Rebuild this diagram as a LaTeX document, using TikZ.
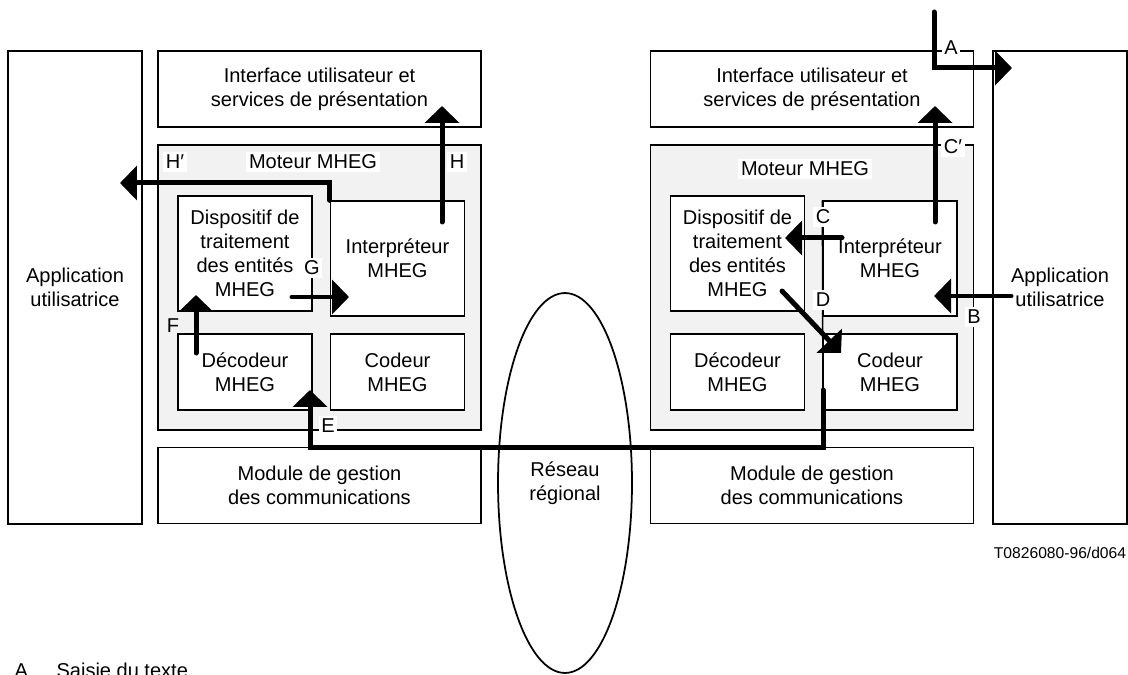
\documentclass[tikz,border=0pt]{standalone}
\usepackage{fontspec}
\setmainfont{Liberation Sans}
\usetikzlibrary{arrows.meta, shapes.geometric}

\begin{document}
\begin{tikzpicture}[x=0.02cm, y=-0.02cm,
    every node/.style={font=\fontsize{11.4}{13.7}\selectfont, align=center, line width=0.8pt},
    colonne/.style={draw, fill=white, minimum width=2.68cm, minimum height=9.46cm},
    bandeau/.style={draw, fill=white, minimum width=6.46cm, minimum height=1.52cm},
    moteur/.style={draw, fill=gray!10, minimum width=6.46cm, minimum height=5.7cm},
    bloc/.style={draw, fill=white, minimum width=2.68cm, minimum height=2.3cm, inner sep=1pt},
    petitbloc/.style={draw, fill=white, minimum width=2.68cm, minimum height=1.52cm},
    etiq/.style={fill=white, inner sep=1.5pt},
    fleche/.style={line width=0.1cm, line cap=round, -{Triangle[length=0.34cm, width=0.68cm]}}]
    \useasboundingbox (0, 0) rectangle (1128, 675);

    % Bloki - strona lewa
    \node[colonne] (appG) at (75, 287.5) {Application\\utilisatrice};
    \node[bandeau] (ifaceG) at (319.5, 89) {Interface utilisateur et\\services de présentation};
    \node[moteur] (moteurG) at (319.5, 287.5) {};
    \node[bloc] (dispG) at (245, 253.5) {Dispositif de\\traitement\\des entités\\MHEG};
    \node[bloc] (interpG) at (397.5, 258.5) {Interpréteur\\MHEG};
    \node[petitbloc] (decG) at (245, 372) {Décodeur\\MHEG};
    \node[petitbloc] (codG) at (397.5, 372) {Codeur\\MHEG};
    \node[bandeau] (moduleG) at (319.5, 485.5) {Module de gestion\\des communications};

    % Bloki - strona prawa
    \node[bandeau] (ifaceD) at (812, 89) {Interface utilisateur et\\services de présentation};
    \node[moteur] (moteurD) at (812, 287.5) {};
    \node[bloc] (dispD) at (737.5, 253.5) {Dispositif de\\traitement\\des entités\\MHEG};
    \node[bloc] (interpD) at (890, 258.5) {Interpréteur\\MHEG};
    \node[petitbloc] (decD) at (737.5, 372) {Décodeur\\MHEG};
    \node[petitbloc] (codD) at (890, 372) {Codeur\\MHEG};
    \node[bandeau] (moduleD) at (812, 485.5) {Module de gestion\\des communications};
    \node[colonne] (appD) at (1060, 287.5) {Application\\utilisatrice};

    % Sieć
    \node[draw, ellipse, line width=1pt, minimum width=2.68cm, minimum height=7.6cm] (reseau) at (565, 483) {Réseau\\régional};

    % Punkty strzałek
    \coordinate (hprime) at (120, 183);
    \coordinate (h0) at (442, 222);
    \coordinate (h1) at (442, 106);
    \coordinate (g0) at (292, 297);
    \coordinate (g1) at (349, 297);
    \coordinate (f0) at (196, 353);
    \coordinate (f1) at (196, 295);
    \coordinate (e0) at (823, 390);
    \coordinate (ecoin) at (823, 447);
    \coordinate (e1) at (310, 390);
    \coordinate (a0) at (934, 12);
    \coordinate (a1) at (1012, 68);
    \coordinate (cp0) at (935, 222);
    \coordinate (cp1) at (935, 106);
    \coordinate (c0) at (842, 238);
    \coordinate (c1) at (785, 238);
    \coordinate (d0) at (782, 291);
    \coordinate (d1) at (841, 353);
    \coordinate (b0) at (1011, 296);
    \coordinate (b1) at (934, 296);

    % Strzałki
    \draw[line width=0.8pt] (interpD.north west) -- (ecoin);
    \draw[fleche] (interpG.north west) |- (hprime);
    \draw[fleche] (h0) -- (h1);
    \draw[fleche] (g0) -- (g1);
    \draw[fleche] (f0) -- (f1);
    \draw[fleche] (e0) -- (ecoin) -| (e1);
    \draw[fleche] (a0) |- (a1);
    \draw[fleche] (cp0) -- (cp1);
    \draw[fleche] (c0) -- (c1);
    \draw[fleche] (d0) -- (d1);
    \draw[fleche] (b0) -- (b1);

    % Etykiety
    \node[etiq] (lHp) at (175, 162) {H′};
    \node[etiq] (lMotG) at (313, 162) {Moteur MHEG};
    \node[etiq] (lH) at (457, 162) {H};
    \node[etiq] (lG) at (312, 268) {G};
    \node[inner sep=1pt] (lF) at (173, 326) {F};
    \node[etiq] (lE) at (328, 426) {E};
    \node[etiq] (lA) at (951, 48) {A};
    \node[etiq] (lCp) at (953, 147) {C′};
    \node[etiq] (lMotD) at (805, 169) {Moteur MHEG};
    \node[etiq] (lC) at (823, 217) {C};
    \node[etiq] (lD) at (823, 300) {D};
    \node[etiq] (lB) at (974, 317) {B};

    % Podpisy
    \node[font=\fontsize{8.9}{10}\selectfont] (ref) at (1060, 553) {T0826080-96/d064};
    \node[anchor=base west] (legA) at (8, 677) {A};
    \node[anchor=base west] (legAtxt) at (50, 677) {Saisie du texte};
\end{tikzpicture}
\end{document}
